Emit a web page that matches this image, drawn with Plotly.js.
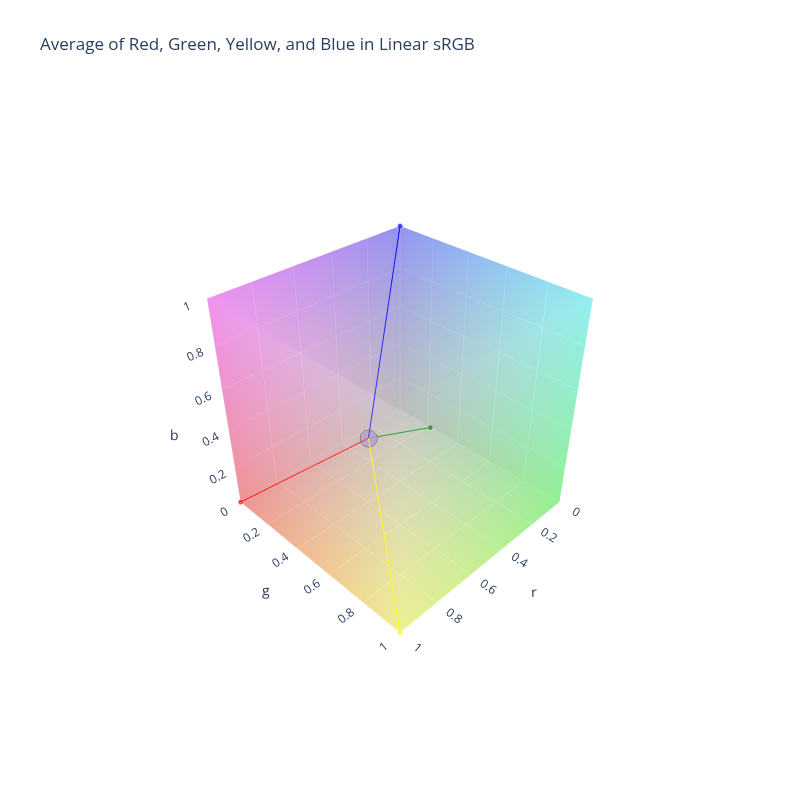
<!DOCTYPE html>
<html><head><meta charset="utf-8">
<script src="https://cdn.plot.ly/plotly-3.0.1.min.js"></script>
</head><body style="margin:0">
<div id="chart" style="width:800px;height:800px"></div>
<script>
const names = ['red','green','yellow','blue'];
const rVals = [1, 0, 1, 0];
const gVals = [0, 0.2158605, 1, 0];
const bVals = [0, 0, 0, 1];
const colors = ['red','green','yellow','blue'];
const avg = [0.5, 0.30396, 0.25];
const avgColor = 'rgb(188,151,137)';

const cx = [0,1,0,1,0,1,0,1];
const cy = [0,0,1,1,0,0,1,1];
const cz = [0,0,0,0,1,1,1,1];
const ci = [0,0,4,4,0,0,2,2,0,0,1,1];
const cj = [1,3,5,7,1,5,3,7,2,6,3,7];
const ck = [3,2,7,6,5,4,7,6,6,4,7,5];

const traces = [{
  type:'mesh3d', x:cx, y:cy, z:cz, i:ci, j:cj, k:ck,
  vertexcolor: cx.map((v,n)=>`rgb(${cx[n]*255},${cy[n]*255},${cz[n]*255})`),
  opacity:0.2, flatshading:true,
  lighting:{ambient:1,diffuse:0,specular:0,roughness:1,fresnel:0},
  hoverinfo:'skip', showscale:false
}];
names.forEach((n,i)=>{
  traces.push({type:'scatter3d', mode:'lines+markers',
    x:[avg[0], rVals[i]], y:[avg[1], gVals[i]], z:[avg[2], bVals[i]],
    line:{color:colors[i], width:2},
    marker:{color:colors[i], size:[0,6]}, name:n, showlegend:false});
});
traces.push({type:'scatter3d', mode:'markers', x:[avg[0]], y:[avg[1]], z:[avg[2]],
  marker:{color:'rgb(180,160,200)', size:10, opacity:0.8, line:{color:'#444',width:1}}, showlegend:false});

const ax = t => ({title:{text:t}, range:[0,1], tickvals:[0,0.2,0.4,0.6,0.8,1],
  ticktext:['0','0.2','0.4','0.6','0.8','1'],
  showbackground:true, backgroundcolor:'rgb(230,230,230)', gridcolor:'white', zeroline:false});
Plotly.newPlot('chart', traces, {
  title:{text:'Average of Red, Green, Yellow, and Blue in Linear sRGB', x:0.05, font:{size:17}},
  font:{color:'#2a3f5f'},
  width:800, height:800, showlegend:false,
  scene:{xaxis:ax('r'), yaxis:ax('g'), zaxis:ax('b'), aspectmode:'cube',
    camera:{eye:{x:1.75,y:1.75,z:1.75}}}
}, {displayModeBar:false});
</script></body></html>
